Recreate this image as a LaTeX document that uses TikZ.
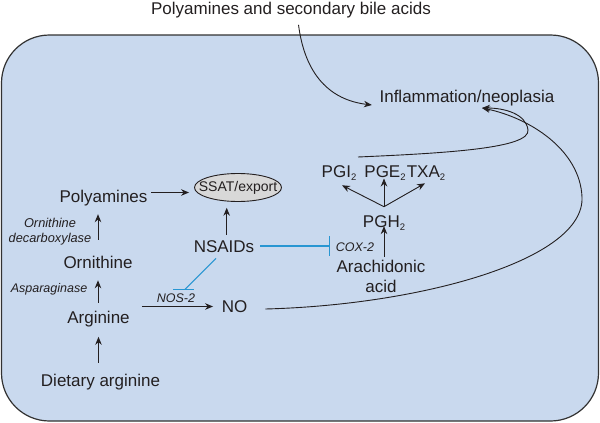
\documentclass[tikz,border=0pt]{standalone}
\usepackage{fontspec}
\setmainfont{Liberation Sans}
\usetikzlibrary{arrows.meta,shapes.geometric}
\definecolor{boxfill}{RGB}{201,217,238}
\definecolor{boxline}{RGB}{50,50,50}
\definecolor{inkc}{RGB}{35,31,32}
\definecolor{inhblue}{RGB}{40,150,210}
\definecolor{ellfill}{RGB}{216,216,216}
\newcommand{\mysubtwo}{\raisebox{-3pt}{\fontsize{9.5}{9.5}\selectfont 2}}
\begin{document}
\begin{tikzpicture}[x=1pt,y=-1pt,
 lbl/.style={font=\fontsize{17}{20}\selectfont, text=inkc, inner sep=0pt, text height=12.2pt, text depth=0pt},
 lbltwo/.style={font=\fontsize{17}{20}\selectfont, text=inkc, inner sep=0pt, align=center},
 enz/.style={font=\fontsize{12.5}{14}\selectfont\itshape, text=inkc, inner sep=0pt, text height=9pt, text depth=0pt},
 enztwo/.style={font=\fontsize{12.8}{15.5}\selectfont\itshape, text=inkc, inner sep=0pt, align=center},
 arr/.style={draw=inkc, line width=0.9pt, -{Stealth[length=8pt,width=6.5pt]}},
 curv/.style={draw=inkc, line width=0.9pt},
 inh/.style={draw=inhblue, line width=1.1pt},
]
\useasboundingbox (0,0) rectangle (600,423);
% background box
\draw[draw=boxline, fill=boxfill, line width=1.2pt, rounded corners=48pt] (1.5,35) rectangle (598.5,421);

% nodes
\node[lbl] (title) at (291,8.5) {Polyamines and secondary bile acids};
\node[lbl] (infl) at (467,96.5) {Inflammation/neoplasia};
\node[lbl] (poly) at (103.5,196.5) {Polyamines};
\node[draw=inkc, fill=ellfill, line width=0.9pt, ellipse, inner sep=0pt, minimum width=87pt, minimum height=28pt] (ssat) at (238,187.5) {};
\node[font=\fontsize{14}{16}\selectfont, text=inkc, inner sep=0pt] (ssattext) at (ssat.center) {SSAT/export};
\node[lbl] (nsaids) at (224,246) {NSAIDs};
\node[enztwo, anchor=north] (odc) at (50,218) {Ornithine\\decarboxylase};
\node[lbl] (ornith) at (98,262) {Ornithine};
\node[enz] (asp) at (49,288) {Asparaginase};
\node[lbl] (argin) at (98.5,317.5) {Arginine};
\node[lbl] (diet) at (100.5,380.5) {Dietary arginine};
\node[enz] (nos) at (176,298) {NOS-2};
\node[lbl] (no) at (234.5,306.5) {NO};
\node[enz] (cox) at (355,247) {COX-2};
\node[lbltwo, anchor=north] (arach) at (381,259.5) {Arachidonic\\acid};
\node[lbl] (pgh) at (384,221) {PGH\mysubtwo};
\node[lbl] (pgi) at (339,171) {PGI\mysubtwo};
\node[lbl] (pge) at (385,171) {PGE\mysubtwo};
\node[lbl] (txa) at (426,171) {TXA\mysubtwo};

% left pathway
\draw[arr, shorten <=11.4pt, shorten >=13pt] (argin.south |- diet.north) -- (argin.south);
\draw[arr, shorten <=8.7pt, shorten >=12pt] (ornith.south |- argin.north) -- (ornith.south);
\draw[arr, shorten <=16pt, shorten >=11.4pt] (ornith.north) -- (ornith.north |- poly.south);
\draw[arr, shorten <=12pt, shorten >=8.5pt] (argin.east |- no.west) -- (no.west);
\draw[arr, shorten <=3.5pt, shorten >=5pt] ([yshift=4pt]poly.east) -- ([yshift=4pt]poly.east -| ssat.west);
\draw[arr, shorten <=5pt, shorten >=5.8pt] ([xshift=2.7pt]nsaids.north) -- ([xshift=2.7pt]nsaids.north |- ssat.south);

% inhibitions
\draw[inh, shorten <=6pt, shorten >=6pt, -{Bar[width=20pt,line width=1.1pt]}] (nsaids.east) -- (nsaids.east -| cox.west);
\coordinate (nb) at ([xshift=9pt,yshift=4pt]nos.north);
\draw[inh] ([xshift=-8pt,yshift=-6pt]nsaids.south) -- (nb);
\draw[inh] ([xshift=-12pt]nb) -- ([xshift=9pt]nb);

% prostaglandins
\coordinate (pgx) at (384,0);
\draw[arr, shorten >=-1.2pt, shorten <=2.8pt] (pgx |- arach.north) -- (pgx |- pgh.south);
\coordinate (pghtop) at ([yshift=8pt]pgx |- pgh.north);
\draw[arr] (pghtop) -- ([xshift=3pt,yshift=-8pt]pgi.south);
\draw[arr] (pghtop) -- ([yshift=-1.2pt]pgx |- pge.south);
\draw[arr] (pghtop) -- ([xshift=-1pt,yshift=-6pt]txa.south);

% curves to inflammation
\coordinate (tip) at (482,108);
\draw[arr] ([xshift=7.5pt,yshift=-10pt]title.south) .. controls (305,75) and (330,100) .. ([xshift=-7.5pt,yshift=-8.5pt]infl.west);
\coordinate (ca) at (358,157);
\draw[curv] (ca) .. controls (450,153) and (530,148) .. (528,130);
\draw[arr] (528,130) .. controls (526,114) and (505,108) .. (tip);
\draw[curv] ([xshift=18pt,yshift=-2.5pt]no.east) .. controls (420,305) and (585,260) .. (582,197);
\draw[arr] (582,197) .. controls (580,150) and (530,118) .. (tip);
\end{tikzpicture}
\end{document}
